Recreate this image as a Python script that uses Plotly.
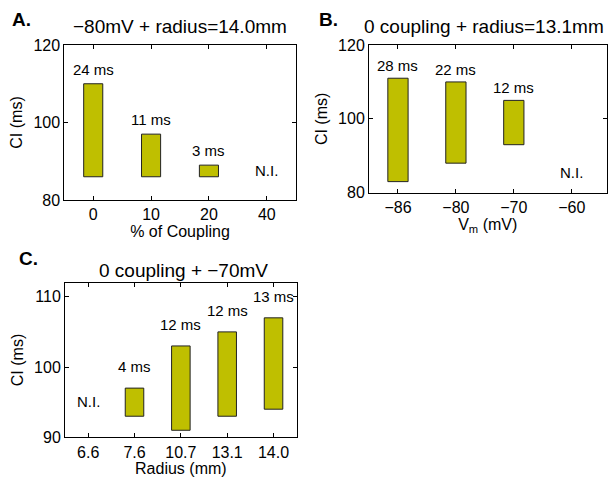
import plotly.graph_objects as go

# Panel A: % of coupling
a_cats = ["0", "10", "20", "40"]
a_low = [86, 86, 86]
a_high = [110, 97, 89]
a_labels = ["24 ms", "11 ms", "3 ms"]
a_ni = "40"

# Panel B: membrane potential
b_cats = ["\u221286", "\u221280", "\u221270", "\u221260"]
b_low = [83, 88, 93]
b_high = [111, 110, 105]
b_labels = ["28 ms", "22 ms", "12 ms"]
b_ni = "\u221260"

# Panel C: radius
c_cats = ["6.6", "7.6", "10.7", "13.1", "14.0"]
c_low = [93, 91, 93, 94]
c_high = [97, 103, 105, 107]
c_labels = ["4 ms", "12 ms", "12 ms", "13 ms"]
c_ni = "6.6"

W, H = 608, 480
FONT = "Liberation Sans, Arial, Helvetica, sans-serif"
BAR = "#bfbf00"

def px_x(p):
    return p / W

def px_y(p):
    return 1 - p / H

fig = go.Figure()

panels = [
    dict(ax="", cats=a_cats, low=a_low, high=a_high, labels=a_labels, bar_cats=a_cats[:3],
         width=0.33, shift=4, ni=a_ni, ni_y=87.5),
    dict(ax="2", cats=b_cats, low=b_low, high=b_high, labels=b_labels, bar_cats=b_cats[:3],
         width=0.35, shift=2, ni=b_ni, ni_y=85.6),
    dict(ax="3", cats=c_cats, low=c_low, high=c_high, labels=c_labels, bar_cats=c_cats[1:],
         width=0.4, shift=11, ni=c_ni, ni_y=95.1),
]

annotations = []
for p in panels:
    heights = [h - l for h, l in zip(p["high"], p["low"])]
    fig.add_trace(go.Bar(
        x=p["bar_cats"], y=heights, base=p["low"],
        width=p["width"],
        marker=dict(color=BAR, line=dict(color="#222222", width=1)),
        xaxis="x" + p["ax"], yaxis="y" + p["ax"],
        hoverinfo="skip", showlegend=False,
    ))
    for c, h, lab in zip(p["bar_cats"], p["high"], p["labels"]):
        annotations.append(dict(
            x=p["cats"].index(c), y=h, text=lab, xref="x" + p["ax"], yref="y" + p["ax"],
            showarrow=False, yanchor="bottom", yshift=p["shift"],
            font=dict(size=15, family=FONT, color="black"),
        ))
    annotations.append(dict(
        x=p["cats"].index(p["ni"]), y=p["ni_y"], text="N.I.", xref="x" + p["ax"],
        yref="y" + p["ax"], showarrow=False,
        font=dict(size=15, family=FONT, color="black"),
    ))

# Titles and panel letters
for txt, x, y in [
    ("\u221280mV + radius=14.0mm", 180, 26),
    ("0 coupling + radius=13.1mm", 484, 26),
    ("0 coupling + \u221270mV", 183, 270),
]:
    annotations.append(dict(x=px_x(x), y=px_y(y), xref="paper", yref="paper", text=txt,
                            showarrow=False, xanchor="center", yanchor="middle",
                            font=dict(size=19, family=FONT, color="black")))
for txt, x, y in [("A.", 10, 20), ("B.", 317, 20), ("C.", 17, 258)]:
    annotations.append(dict(x=px_x(x), y=px_y(y), xref="paper", yref="paper",
                            text="<b>" + txt + "</b>", showarrow=False,
                            xanchor="left", yanchor="middle",
                            font=dict(size=19, family=FONT, color="black")))

axis_common = dict(showline=True, linecolor="black", linewidth=1, mirror="ticks",
                   ticks="inside", ticklen=4, tickcolor="black", showgrid=False,
                   zeroline=False, automargin=False,
                   tickfont=dict(size=16, family=FONT, color="black"))

fig.update_layout(
    width=W, height=H, margin=dict(l=0, r=0, t=0, b=0, autoexpand=False),
    paper_bgcolor="white", plot_bgcolor="white",
    font=dict(family=FONT, color="black"),
    annotations=annotations,
    xaxis=dict(domain=[px_x(64.3), px_x(295.7)], anchor="y", type="category",
               categoryorder="array", categoryarray=a_cats, range=[-0.5, 3.5],
               title=dict(text="% of Coupling", font=dict(size=16), standoff=2), **axis_common),
    yaxis=dict(domain=[px_y(200), px_y(45)], anchor="x", range=[80, 120],
               tickvals=[80, 100, 120],
               title=dict(text="CI (ms)", font=dict(size=16), standoff=6), **axis_common),
    xaxis2=dict(domain=[px_x(369), px_x(606.5)], anchor="y2", type="category",
                categoryorder="array", categoryarray=b_cats, range=[-0.5, 3.6],
                title=dict(text="V<sub>m</sub> (mV)", font=dict(size=16), standoff=2), **axis_common),
    yaxis2=dict(domain=[px_y(192.7), px_y(45)], anchor="x2", range=[80, 120],
                tickvals=[80, 100, 120],
                title=dict(text="CI (ms)", font=dict(size=16), standoff=6), **axis_common),
    xaxis3=dict(domain=[px_x(65), px_x(296.7)], anchor="y3", type="category",
                categoryorder="array", categoryarray=c_cats, range=[-0.5, 4.5],
                title=dict(text="Radius (mm)", font=dict(size=16), standoff=2), **axis_common),
    yaxis3=dict(domain=[px_y(437.3), px_y(282.7)], anchor="x3", range=[90, 112],
                tickvals=[90, 100, 110],
                title=dict(text="CI (ms)", font=dict(size=16), standoff=6), **axis_common),
)

fig.write_html("out.html", config={"displayModeBar": False},
               post_script="document.body.style.margin='0';document.body.style.overflow='hidden';")
